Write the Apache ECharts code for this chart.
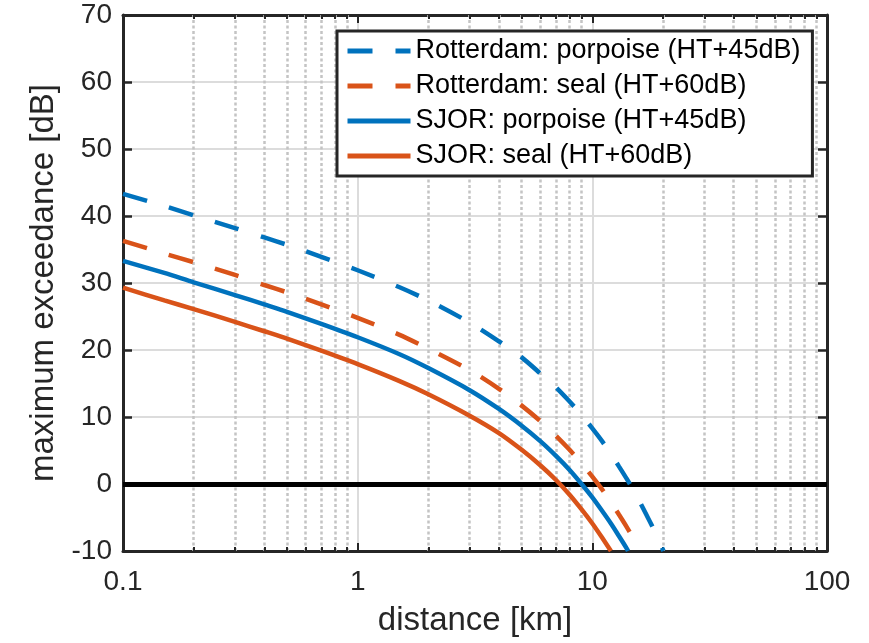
<!DOCTYPE html>
<html><head><meta charset="utf-8">
<script src="https://cdn.jsdelivr.net/npm/echarts@6/dist/echarts.min.js"></script>
<style>html,body{margin:0;padding:0;background:#fff}#c{width:869px;height:643px}</style>
</head><body><div id="c"></div>
<script>
// ---- data (distance km, exceedance dB) ----
const seriesNames = [
  'Rotterdam: porpoise (HT+45dB)',
  'Rotterdam: seal (HT+60dB)',
  'SJOR: porpoise (HT+45dB)',
  'SJOR: seal (HT+60dB)'
];
const rotterdamPorpoise = [[0.1,43.3],[0.15,41.5],[0.2,40.1],[0.3,38.2],[0.4,36.8],[0.5,35.7],[0.7,33.9],[1,31.9],[1.5,29.4],[2,27.4],[3,24.1],[4,21.3],[5,18.9],[6,16.5],[7,14.4],[8,12.3],[9,10.3],[10,8.3],[11,6.4],[12,4.5],[13,2.6],[14,0.8],[15,-1.0],[16,-2.8],[17,-4.6],[18,-6.3],[19,-8.1],[20.1,-10]];
const rotterdamSeal = [[0.1,36.3],[0.15,34.4],[0.2,33.1],[0.3,31.2],[0.4,29.7],[0.5,28.6],[0.7,26.8],[1,24.8],[1.5,22.3],[2,20.2],[3,17.0],[4,14.2],[5,11.7],[6,9.4],[7,7.2],[8,5.1],[9,3.1],[10,1.1],[11,-0.8],[12,-2.7],[13,-4.6],[14,-6.4],[15,-8.2],[16,-10]];
const sjorPorpoise = [[0.1,33.3],[0.15,31.5],[0.2,30.1],[0.3,28.2],[0.4,26.8],[0.5,25.7],[0.7,23.9],[1,21.9],[1.5,19.4],[2,17.3],[3,14.0],[4,11.2],[5,8.7],[6,6.4],[7,4.2],[8,2.1],[9,0.0],[10,-2.0],[11,-4.0],[12,-5.9],[13,-7.8],[14,-9.6],[14.2,-10]];
const sjorSeal = [[0.1,29.3],[0.15,27.4],[0.2,26.1],[0.3,24.2],[0.4,22.8],[0.5,21.7],[0.7,19.9],[1,17.9],[1.5,15.4],[2,13.4],[3,10.2],[4,7.6],[5,5.1],[6,2.8],[7,0.6],[8,-1.6],[9,-3.8],[10,-5.9],[11,-8.0],[12,-10]];
const xMin = 0.1, xMax = 100;
const yMin = -10, yMax = 70, yStep = 10;
const xMinorTicks = [0.2,0.3,0.4,0.5,0.6,0.7,0.8,0.9,2,3,4,5,6,7,8,9,20,30,40,50,60,70,80,90];
const zeroLevel = 0;

const BLUE = '#0072BD', ORANGE = '#D95319', AX = '#262626';
const FONT = 'Liberation Sans, Arial, Helvetica, sans-serif';

const chart = echarts.init(document.getElementById('c'), null, {renderer:'canvas'});

function curve(name, data, color, dashed) {
  return {
    name, type:'line', data, symbol:'none', smooth:0.25,
    z:5, animation:false,
    lineStyle:{color, width:4.5, type: dashed ? [25,23] : 'solid', cap:'butt'},
    itemStyle:{color}
  };
}

const tickSegs = [];
xMinorTicks.forEach(x => {
  tickSegs.push([{coord:[x,yMin]},{coord:[x,yMin+0.6]}]);
  tickSegs.push([{coord:[x,yMax]},{coord:[x,yMax-0.6]}]);
});

const option = {
  backgroundColor:'#fff',
  animation:false,
  grid:{left:123, top:15, right:42, bottom:92, containLabel:false},
  legend:{
    data: seriesNames,
    orient:'vertical',
    left:337, top:31,
    padding:[5,12,5,8],
    itemWidth:63, itemHeight:14, itemGap:5,
    backgroundColor:'#fff',
    borderColor:AX, borderWidth:3, borderRadius:0,
    itemStyle:{opacity:0},
    lineStyle:{width:5},
    textStyle:{fontSize:27, fontFamily:FONT, color:'#000', lineHeight:30},
    z:20
  },
  xAxis:[{
    type:'log', logBase:10, min:xMin, max:xMax, position:'bottom',
    name:'distance [km]', nameLocation:'middle', nameGap:53,
    nameTextStyle:{fontSize:33, fontFamily:FONT, color:AX},
    axisLine:{show:true, onZero:false, lineStyle:{color:AX, width:3}},
    axisTick:{show:true, inside:true, length:8, lineStyle:{color:AX, width:2}},
    axisLabel:{fontSize:28, fontFamily:FONT, color:AX, margin:17,
      formatter:v => String(+(+v).toPrecision(3))},
    splitLine:{show:true, lineStyle:{color:'#dcdcdc', width:2}},
    minorTick:{show:false}
  },{
    type:'log', logBase:10, min:xMin, max:xMax, position:'top',
    axisLine:{show:true, onZero:false, lineStyle:{color:AX, width:3}},
    axisTick:{show:true, inside:true, length:8, lineStyle:{color:AX, width:2}},
    axisLabel:{show:false}, splitLine:{show:false}
  }],
  yAxis:[{
    type:'value', min:yMin, max:yMax, interval:yStep, position:'left',
    name:'maximum exceedance [dB]', nameLocation:'middle', nameGap:62,
    nameTextStyle:{fontSize:33, fontFamily:FONT, color:AX},
    axisLine:{show:true, onZero:false, lineStyle:{color:AX, width:3}},
    axisTick:{show:true, inside:true, length:9, lineStyle:{color:AX, width:2.5}},
    axisLabel:{fontSize:28, fontFamily:FONT, color:AX, margin:11},
    splitLine:{show:true, lineStyle:{color:'#dcdcdc', width:2}}
  },{
    type:'value', min:yMin, max:yMax, interval:yStep, position:'right',
    axisLine:{show:true, onZero:false, lineStyle:{color:AX, width:3}},
    axisTick:{show:true, inside:true, length:9, lineStyle:{color:AX, width:2.5}},
    axisLabel:{show:false}, splitLine:{show:false}
  }],
  series:[
    {
      name:'minorGrid', type:'line', data:[], z:1, silent:true, animation:false,
      markLine:{symbol:'none', silent:true, animation:false, label:{show:false},
        lineStyle:{color:'#c4c4c4', width:2.5, type:[3,2.5]},
        data: xMinorTicks.map(x => ({xAxis:x}))}
    },
    {
      name:'minorTicks', type:'line', data:[], z:3, silent:true, animation:false,
      markLine:{symbol:'none', silent:true, animation:false, label:{show:false},
        lineStyle:{color:AX, width:2, type:'solid'},
        data: tickSegs}
    },
    {
      name:'zero', type:'line', data:[], z:4, silent:true, animation:false,
      markLine:{symbol:'none', silent:true, animation:false, label:{show:false},
        lineStyle:{color:'#000', width:5, type:'solid'},
        data:[{yAxis:zeroLevel}]}
    },
    curve(seriesNames[0], rotterdamPorpoise, BLUE, true),
    curve(seriesNames[1], rotterdamSeal, ORANGE, true),
    curve(seriesNames[2], sjorPorpoise, BLUE, false),
    curve(seriesNames[3], sjorSeal, ORANGE, false)
  ]
};
chart.setOption(option);
</script></body></html>
